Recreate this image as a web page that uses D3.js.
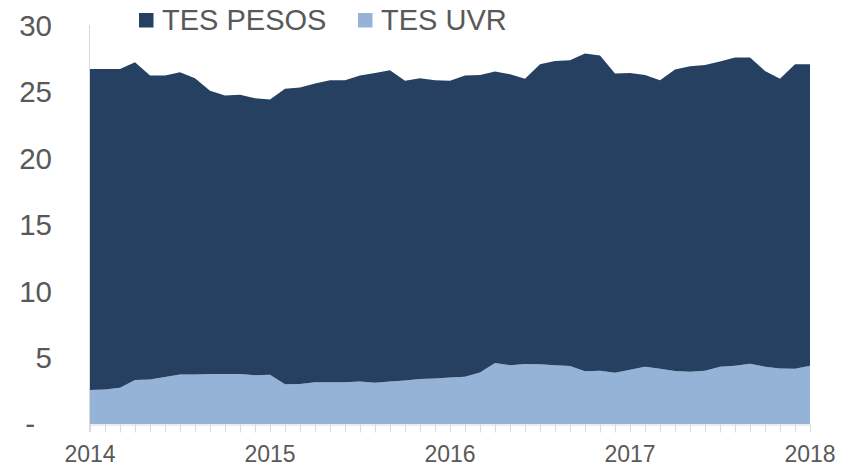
<!DOCTYPE html>
<html>
<head>
<meta charset="utf-8">
<script src="https://cdn.jsdelivr.net/npm/d3@7/dist/d3.min.js"></script>
<style>
  html, body { margin: 0; padding: 0; background: #ffffff; }
  svg { display: block; font-family: "Liberation Sans", Arial, sans-serif; }
</style>
</head>
<body>
<svg id="chart" width="855" height="468"></svg>
<script>
// Monthly observations, Jan 2014 .. Jan 2018
const startYear = 2014;
const tesUVR = [2.55, 2.6, 2.73, 3.3, 3.35, 3.53, 3.73, 3.73, 3.76, 3.76, 3.76, 3.66,
  3.7, 2.98, 3.0, 3.13, 3.13, 3.13, 3.2, 3.1, 3.2, 3.28, 3.38, 3.43,
  3.5, 3.56, 3.88, 4.58, 4.41, 4.51, 4.5, 4.41, 4.36, 3.96, 4.0, 3.86,
  4.08, 4.31, 4.16, 3.98, 3.93, 4.0, 4.31, 4.38, 4.53, 4.31, 4.18, 4.16,
  4.38];
const tesPesos = [24.15, 24.1, 23.97, 23.9, 22.85, 22.67, 22.72, 22.27, 21.3, 20.94, 20.99, 20.84,
  20.7, 22.22, 22.3, 22.47, 22.72, 22.72, 23.0, 23.3, 23.4, 22.52, 22.62, 22.42,
  22.3, 22.64, 22.37, 21.92, 21.89, 21.44, 22.55, 22.89, 22.99, 23.89, 23.7, 22.49,
  22.32, 21.94, 21.69, 22.67, 22.97, 23.0, 22.94, 23.17, 23.02, 22.24, 21.77, 22.89,
  22.67];
const seriesNames = ["TES UVR", "TES PESOS"];
const seriesColors = ["#95b3d7", "#264061"];
const yTicks = [0, 5, 10, 15, 20, 25, 30];
const yearLabels = ["2014", "2015", "2016", "2017", "2018"];

(function () {
const rows = tesUVR.map((v, i) => ({ i: i, "TES UVR": v, "TES PESOS": tesPesos[i] }));

const svg = d3.select("#chart");
const mLeft = 90, mRight = 810, mTop = 25, mBottom = 424;

const x = d3.scaleLinear().domain([0, rows.length - 1]).range([mLeft, mRight]);
const y = d3.scaleLinear().domain([0, 30]).range([mBottom, mTop]);

const stack = d3.stack().keys(seriesNames);
const layers = stack(rows);

const area = d3.area()
  .x(d => x(d.data.i))
  .y0(d => y(d[0]))
  .y1(d => y(d[1]));

svg.append("g").selectAll("path")
  .data(layers)
  .join("path")
  .attr("d", area)
  .attr("fill", (d, k) => seriesColors[k]);

// Y axis line
svg.append("line")
  .attr("x1", mLeft - 0.5).attr("x2", mLeft - 0.5)
  .attr("y1", mTop).attr("y2", mBottom + 8)
  .attr("stroke", "#d9d9d9").attr("stroke-width", 1);

// X axis (monthly ticks)
const xAxis = d3.axisBottom(x)
  .tickValues(d3.range(0, rows.length))
  .tickSize(8)
  .tickSizeOuter(0)
  .tickFormat("");
const gx = svg.append("g").attr("transform", `translate(0,${mBottom + 0.5})`).call(xAxis);
gx.select(".domain").attr("stroke", "#d9d9d9");
gx.selectAll(".tick line").attr("stroke", "#d9d9d9");

// Year labels
svg.append("g").selectAll("text")
  .data(yearLabels)
  .join("text")
  .attr("x", (d, k) => x(k * 12))
  .attr("y", 462)
  .attr("text-anchor", "middle")
  .attr("font-size", 23)
  .attr("fill", "#595959")
  .text(d => d);

// Y labels
svg.append("g").selectAll("text")
  .data(yTicks)
  .join("text")
  .attr("x", d => d === 0 ? 35 : 52)
  .attr("y", d => d === 0 ? y(d) + 10 : y(d) + 10.5)
  .attr("text-anchor", "end")
  .attr("font-size", 29.5)
  .attr("fill", "#595959")
  .text(d => d === 0 ? "-" : d3.format("d")(d));

// Legend
const legendItems = [
  { name: "TES PESOS", color: seriesColors[1], x: 139 },
  { name: "TES UVR", color: seriesColors[0], x: 358 }
];
const lg = svg.append("g").selectAll("g").data(legendItems).join("g")
  .attr("transform", d => `translate(${d.x},0)`);
lg.append("rect").attr("x", 0).attr("y", 13).attr("width", 14.5).attr("height", 14.5)
  .attr("fill", d => d.color);
lg.append("text").attr("x", 23).attr("y", 29.5)
  .attr("font-size", 29)
  .attr("fill", "#595959")
  .text(d => d.name);
})();
</script>
</body>
</html>
